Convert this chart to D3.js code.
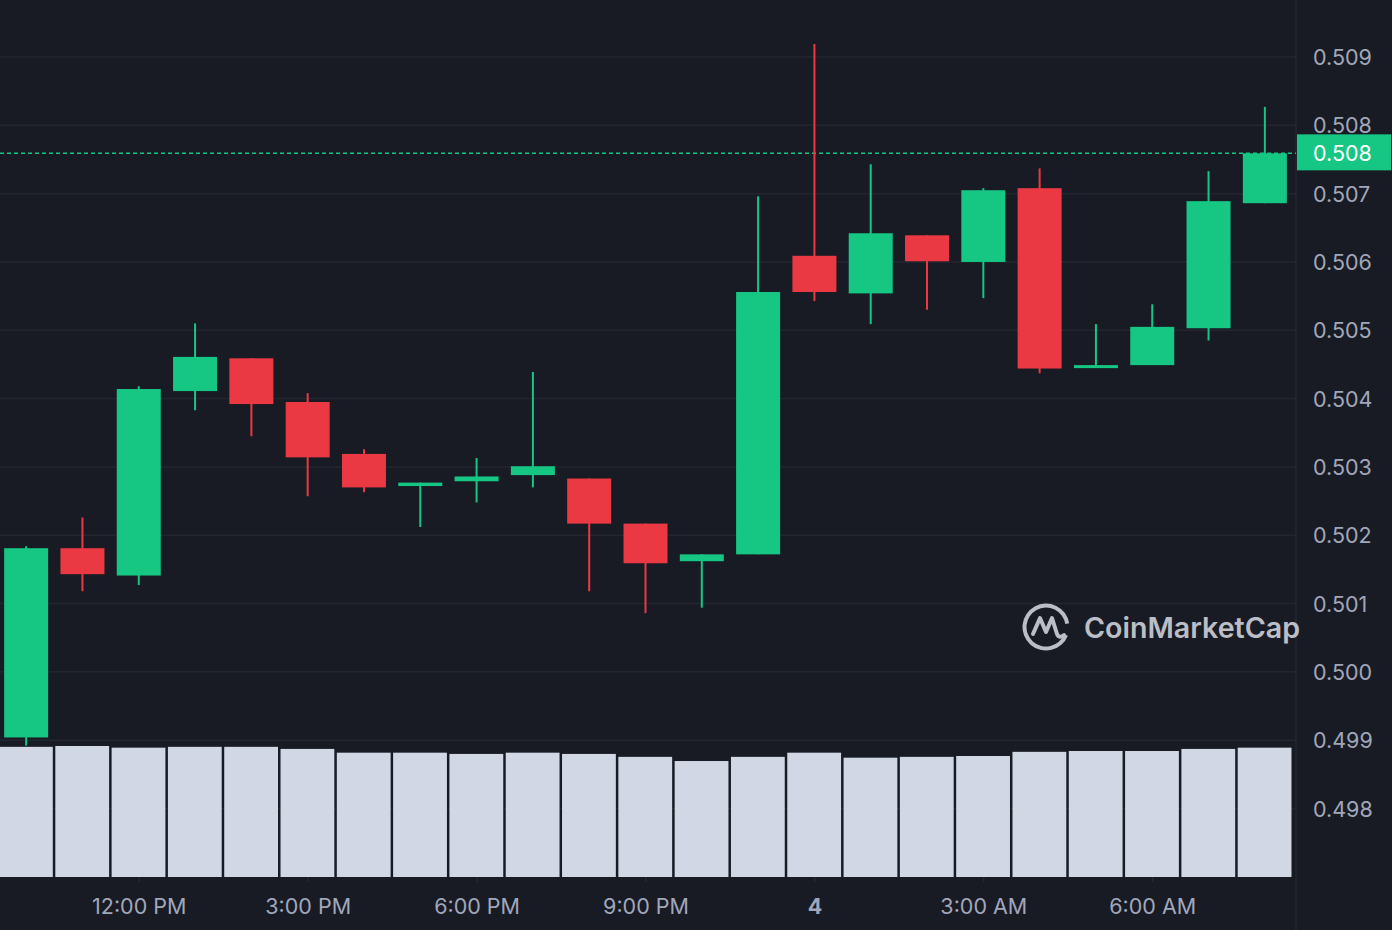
<!DOCTYPE html>
<html lang="en">
<head>
  <meta charset="UTF-8" />
  <title>Price chart</title>
  <script src="https://d3js.org/d3.v7.min.js"></script>
  <style>
    html, body { margin: 0; padding: 0; background: #181b24; }
    body { font-family: Inter, "Noto Sans", sans-serif; }
    .axis text { fill: #a1a7bb; font-size: 21.5px; font-family: Inter, sans-serif; }
    .axis path { display: none; }
  </style>
</head>
<body>
  <svg id="chart" width="1392" height="930"></svg>

  <script>
    // hourly candles, 10:00 AM on the 3rd to 8:00 AM on the 4th
    const hours = d3.range(23).map(i => new Date(2024, 6, 3, 10 + i));
    const open  = [0.49904, 0.50181, 0.50141, 0.50411, 0.50459, 0.50395, 0.50319, 0.50272, 0.50279, 0.50288, 0.50283, 0.50217,
                   0.50162, 0.50172, 0.50609, 0.50554, 0.50639, 0.50600, 0.50708, 0.50446, 0.50449, 0.50503, 0.50686];
    const close = [0.50181, 0.50143, 0.50414, 0.50461, 0.50392, 0.50314, 0.50270, 0.50277, 0.50286, 0.50301, 0.50217, 0.50159,
                   0.50172, 0.50556, 0.50556, 0.50642, 0.50601, 0.50705, 0.50444, 0.50449, 0.50505, 0.50689, 0.50759];
    const high  = [0.50184, 0.50226, 0.50418, 0.50510, 0.50459, 0.50408, 0.50326, 0.50277, 0.50313, 0.50439, 0.50283, 0.50217,
                   0.50172, 0.50696, 0.50919, 0.50743, 0.50639, 0.50708, 0.50737, 0.50509, 0.50538, 0.50733, 0.50827];
    const low   = [0.49892, 0.50118, 0.50127, 0.50383, 0.50345, 0.50257, 0.50263, 0.50212, 0.50248, 0.50270, 0.50118, 0.50086,
                   0.50094, 0.50172, 0.50543, 0.50509, 0.50530, 0.50547, 0.50437, 0.50446, 0.50449, 0.50485, 0.50686];
    // volume in millions (no axis shown)
    const volume = [312, 314, 310, 312, 312, 307, 298, 298, 295, 298, 295, 288,
                    278, 288, 298, 286, 288, 290, 300, 302, 302, 307, 310];

    const priceTicks = [0.498, 0.499, 0.500, 0.501, 0.502, 0.503, 0.504, 0.505, 0.506, 0.507, 0.508, 0.509];
    const timeTicks = [new Date(2024, 6, 3, 12), new Date(2024, 6, 3, 15), new Date(2024, 6, 3, 18), new Date(2024, 6, 3, 21),
                       new Date(2024, 6, 4, 0), new Date(2024, 6, 4, 3), new Date(2024, 6, 4, 6)];
    const timeLabels = ["12:00 PM", "3:00 PM", "6:00 PM", "9:00 PM", "4", "3:00 AM", "6:00 AM"];
    const lastPrice = 0.50759;

    const green = "#16c784", red = "#ea3943";
    const svg = d3.select("#chart");
    const plotRight = 1296, volBottom = 877;

    const x = d3.scaleTime()
      .domain([new Date(2024, 6, 3, 9, 30), new Date(2024, 6, 4, 8, 30)])
      .range([-2, 1293]);
    const hourW = x(hours[1]) - x(hours[0]);

    const y = d3.scaleLinear().domain([0.498, 0.509]).range([808.5, 57]);
    const yVol = d3.scaleLinear().domain([0, 314]).range([volBottom, 746]);

    // grid
    svg.append("g").selectAll("line")
      .data(priceTicks)
      .join("line")
      .attr("x1", 0).attr("x2", plotRight)
      .attr("y1", d => y(d)).attr("y2", d => y(d))
      .attr("stroke", "#23262f").attr("stroke-width", 1.5);

    svg.append("line")
      .attr("x1", plotRight).attr("x2", plotRight)
      .attr("y1", 0).attr("y2", 930)
      .attr("stroke", "#23262f").attr("stroke-width", 1.5);

    // volume bars
    svg.append("g").selectAll("rect")
      .data(hours)
      .join("rect")
      .attr("x", (d, i) => x(d) - hourW / 2 + 1)
      .attr("width", hourW - 2.5)
      .attr("y", (d, i) => yVol(volume[i]))
      .attr("height", (d, i) => volBottom - yVol(volume[i]))
      .attr("fill", "#d1d7e4");

    // watermark
    const logo = svg.append("g").attr("transform", "translate(1046,627)").attr("opacity", 0.85);
    logo.append("path")
      .attr("d", d3.arc()({ innerRadius: 19.5, outerRadius: 23.5, startAngle: Math.PI * 0.62, endAngle: Math.PI * 2.45 }))
      .attr("fill", "#d8dbe2");
    logo.append("path")
      .attr("d", "M-13,7 L-6,-9 L0,5 L6,-9 L11,7 Q13,12 18,8")
      .attr("fill", "none").attr("stroke", "#d8dbe2").attr("stroke-width", 4)
      .attr("stroke-linejoin", "round").attr("stroke-linecap", "round");
    svg.append("text")
      .attr("x", 1084).attr("y", 638)
      .attr("fill", "#d8dbe2").attr("opacity", 0.85)
      .attr("font-size", 28.6).attr("font-weight", 600)
      .text("CoinMarketCap");

    // last price line
    svg.append("line")
      .attr("x1", 0).attr("x2", plotRight)
      .attr("y1", y(lastPrice)).attr("y2", y(lastPrice))
      .attr("stroke", green).attr("stroke-width", 1.5)
      .attr("stroke-dasharray", "4,3");

    // candles
    const candles = svg.append("g").selectAll("g")
      .data(hours)
      .join("g")
      .attr("fill", (d, i) => close[i] >= open[i] ? green : red)
      .attr("stroke", (d, i) => close[i] >= open[i] ? green : red);

    candles.append("line")
      .attr("x1", d => x(d)).attr("x2", d => x(d))
      .attr("y1", (d, i) => y(high[i])).attr("y2", (d, i) => y(low[i]))
      .attr("stroke-width", 2);

    candles.append("rect")
      .attr("stroke", "none")
      .attr("x", d => x(d) - 22)
      .attr("width", 44)
      .attr("y", (d, i) => y(Math.max(open[i], close[i])))
      .attr("height", (d, i) => Math.max(3, Math.abs(y(open[i]) - y(close[i]))));

    // axes
    svg.append("g")
      .attr("class", "axis")
      .attr("transform", `translate(${plotRight},0)`)
      .call(d3.axisRight(y).tickValues(priceTicks).tickFormat(d3.format(".3f")).tickSize(0).tickPadding(17))
      .selectAll("text").attr("dy", "0.35em");

    const xAxis = svg.append("g")
      .attr("class", "axis")
      .attr("transform", `translate(0,${volBottom})`)
      .call(d3.axisBottom(x).tickValues(timeTicks).tickFormat((d, i) => timeLabels[i]).tickSize(5).tickPadding(17));
    xAxis.selectAll(".tick line").attr("stroke", "#2b2f3a");
    xAxis.selectAll(".tick text").attr("font-weight", (d, i) => timeLabels[i] === "4" ? 700 : 400);

    // last price tag
    svg.append("rect")
      .attr("x", plotRight + 1).attr("y", y(lastPrice) - 19)
      .attr("width", 94).attr("height", 36)
      .attr("fill", green);
    svg.append("text")
      .attr("x", plotRight + 17).attr("y", y(lastPrice))
      .attr("dy", "0.35em")
      .attr("fill", "#ffffff").attr("font-size", 21.5)
      .text(d3.format(".3f")(lastPrice));
  </script>
</body>
</html>
